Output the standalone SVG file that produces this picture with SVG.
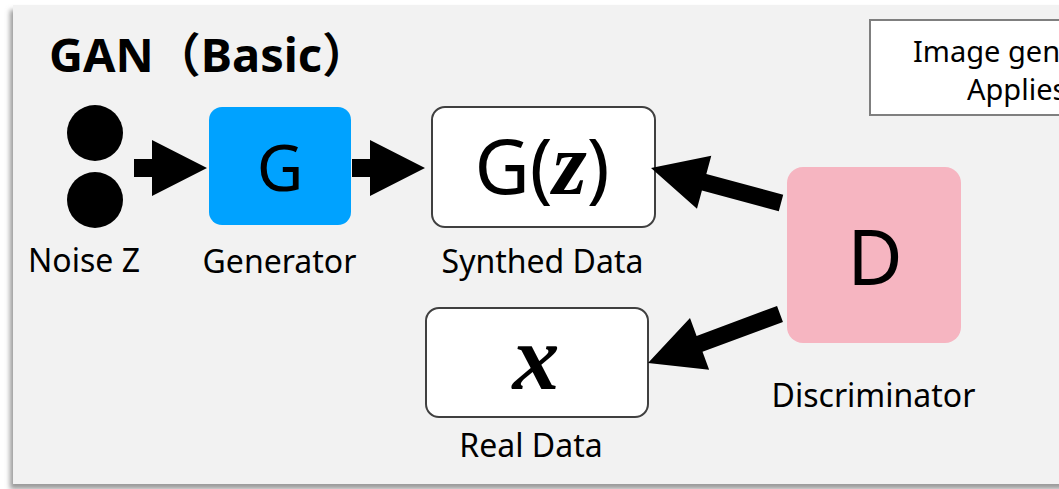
<svg xmlns="http://www.w3.org/2000/svg" width="1059" height="489" viewBox="0 0 1059 489">
<defs>
<filter id="sh" x="-5%" y="-5%" width="110%" height="115%">
<feDropShadow dx="-3" dy="5" stdDeviation="2.5" flood-color="#808080" flood-opacity="0.8"/>
</filter>
</defs>
<style>
.lbl{font-family:"Noto Sans","Open Sans",sans-serif;font-size:32px;fill:#000;text-anchor:middle}
.big{font-family:"Noto Sans","Open Sans",sans-serif;fill:#000;text-anchor:middle}
.math{font-family:"Liberation Serif","DejaVu Serif",serif;font-weight:bold;font-style:italic}
.box{fill:#fff;stroke:#404040;stroke-width:2}
.arrow{fill:#000}
.note{font-family:"Noto Sans","Open Sans",sans-serif;font-size:29px;fill:#000}
</style>
<rect x="0" y="0" width="1059" height="489" fill="#fff"/>
<rect id="panel" x="13" y="5" width="1070" height="479" fill="#f2f2f2" filter="url(#sh)"/>
<text x="49" y="72" style="font-family:'Noto Sans','Noto Sans CJK JP',sans-serif;font-size:47px;font-weight:bold" fill="#000">GAN（Basic）</text>
<g id="note">
<rect x="870" y="20" width="200" height="95" fill="#fff" stroke="#7f7f7f" stroke-width="2"/>
<text class="note" x="913" y="62">Image gen</text>
<text class="note" x="967" y="100">Applies</text>
</g>
<g id="noise">
<circle cx="95" cy="133" r="28" fill="#000"/>
<circle cx="95" cy="200" r="28" fill="#000"/>
<text class="lbl" x="84" y="272">Noise Z</text>
</g>
<g id="generator">
<rect x="209" y="107" width="142" height="118" rx="13" fill="#00a2ff"/>
<text class="big" x="280" y="191" font-size="64">G</text>
<text class="lbl" x="279.5" y="273">Generator</text>
</g>
<g id="synthed">
<rect class="box" x="432" y="107" width="223" height="120" rx="13"/>
<text class="big" x="542" y="194" font-size="76">G(<tspan class="math" font-size="88">z</tspan>)</text>
<text class="lbl" x="542.5" y="273">Synthed Data</text>
</g>
<g id="real">
<rect class="box" x="426" y="308" width="222" height="109" rx="13"/>
<text class="big math" x="536" y="389" font-size="94">x</text>
<text class="lbl" x="531" y="457">Real Data</text>
</g>
<g id="discriminator">
<rect x="787" y="167" width="174" height="176" rx="16" fill="#f6b5c1"/>
<text class="big" x="875" y="285" font-size="76">D</text>
<text class="lbl" x="873.5" y="407">Discriminator</text>
</g>
<g id="connectors">
<polygon class="arrow" points="134,159 152,159 152,140 207,168 152,196 152,177 134,177"/>
<polygon class="arrow" points="352,159 370,159 370,140 425,168 370,196 370,177 352,177"/>
<polygon class="arrow" transform="translate(781,203) rotate(195.07)" points="0,-8.5 79.6,-8.5 79.6,-27.5 134.6,0 79.6,27.5 79.6,8.5 0,8.5"/>
<polygon class="arrow" transform="translate(780,314) rotate(159.63)" points="0,-8.5 85.8,-8.5 85.8,-27.5 140.8,0 85.8,27.5 85.8,8.5 0,8.5"/>
</g>
</svg>
